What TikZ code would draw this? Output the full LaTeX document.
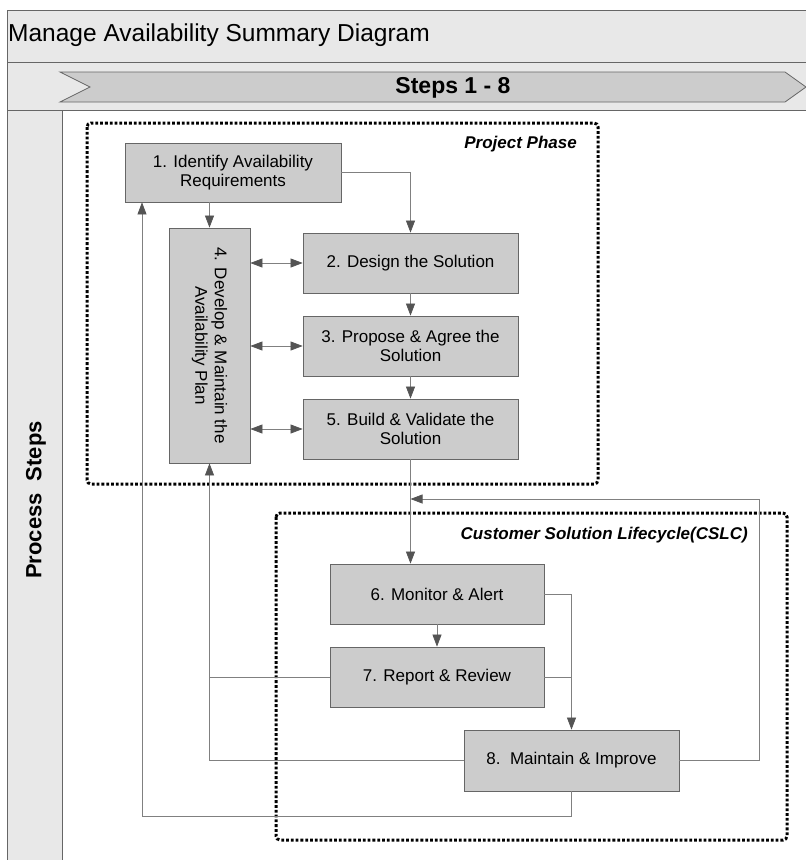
\documentclass[tikz,border=0pt]{standalone}
\usepackage{fontspec}
\setmainfont{Liberation Sans}
\usetikzlibrary{arrows.meta}
\definecolor{bandgray}{gray}{0.91}
\definecolor{boxgray}{gray}{0.80}
\definecolor{chevgray}{gray}{0.80}
\definecolor{framegray}{gray}{0.40}
\definecolor{linkgray}{gray}{0.50}
\definecolor{tipgray}{gray}{0.33}
\begin{document}
\begin{tikzpicture}[x=1pt,y=-1pt,
  stepbox/.style={draw=framegray, line width=0.8pt, fill=boxgray,
    minimum width=215pt, minimum height=60pt, inner sep=2pt,
    align=center, font=\fontsize{17}{19.5}\selectfont},
  link/.style={draw=linkgray, line width=0.7pt},
  tipend/.style={-{Triangle[length=12pt,width=9pt,fill=tipgray,color=tipgray]}},
  tipboth/.style={{Triangle[length=12pt,width=9pt,fill=tipgray,color=tipgray]}-{Triangle[length=12pt,width=9pt,fill=tipgray,color=tipgray]}},
  phase/.style={draw=black, line width=3pt, dash pattern=on 2.8pt off 2pt, rounded corners=4pt},
  phaselabel/.style={font=\fontsize{17}{20}\selectfont\bfseries\itshape, inner sep=0pt},
]
\useasboundingbox (0,0) rectangle (806,860);
\clip (0,0) rectangle (806,860);

% --- header bands and swimlane frame ---
\fill[white] (0,0) rectangle (806,860);
\draw[framegray, line width=0.8pt, fill=bandgray] (7,10) rectangle (830,62);
\draw[framegray, line width=0.8pt, fill=bandgray] (7,62) rectangle (830,110);
\draw[framegray, line width=0.8pt, fill=bandgray] (7,110) rectangle (62,880);
\draw[framegray, line width=0.8pt] (62,110) rectangle (830,880);

\node[anchor=west, inner sep=0pt, font=\fontsize{24.5}{28}\selectfont] (title) at (8,35)
  {Manage Availability Summary Diagram};

% chevron banner
\draw[framegray, line width=0.8pt, fill=chevgray]
  (60,72) -- (785,72) -- (806,87) -- (785,102) -- (60,102) -- (90,87) -- cycle;
\node[font=\fontsize{23}{26}\selectfont\bfseries] (steps) at (453,88) {Steps 1 - 8};

\node[rotate=90, font=\fontsize{22}{26}\selectfont\bfseries] (lane) at (36,500)
  {Process\ \ Steps};

% --- phase frames ---
\draw[phase] (87,123) rectangle (598,484);
\node[phaselabel, anchor=east] (pp) at (577,144) {Project Phase};
\draw[phase] (276,513) rectangle (787,840);
\node[phaselabel, anchor=east] (cslc) at (748,535) {Customer Solution Lifecycle(CSLC)};

% --- process steps ---
\node[stepbox, minimum width=216pt, minimum height=59pt] (b1) at (233,172.5)
  {1. Identify Availability\\Requirements};
\node[stepbox, minimum width=81pt, minimum height=235pt] (b4) at (209.5,345.5) {};
\node[rotate=-90, align=center, font=\fontsize{17}{19.5}\selectfont] (b4text) at (b4.center)
  {4. Develop \& Maintain the\\Availability Plan};
\node[stepbox] (b2) at (410.5,263) {2. Design the Solution};
\node[stepbox] (b3) at (410.5,346) {3. Propose \& Agree the\\Solution};
\node[stepbox] (b5) at (410.5,429) {5. Build \& Validate the\\Solution};
\node[stepbox, minimum width=214pt] (b6) at (437,594) {6. Monitor \& Alert};
\node[stepbox, minimum width=214pt] (b7) at (437,677) {7. Report \& Review};
\node[stepbox, minimum height=61pt] (b8) at (571.5,760.5) {8.\ \ Maintain \& Improve};

\coordinate (lowrun) at (142,816);
\coordinate (loopc) at (759,499);

% --- connectors ---
\draw[link, tipend] (b1.south -| b4.north) -- (b4.north);
\draw[link, tipend] (b1.east) -| (b2.north);
\draw[link, tipend] (b2) -- (b3);
\draw[link, tipend] (b3) -- (b5);
\draw[link, tipboth] (b4.east |- b2.west) -- (b2.west);
\draw[link, tipboth] (b4.east |- b3.west) -- (b3.west);
\draw[link, tipboth] (b4.east |- b5.west) -- (b5.west);
\draw[link, tipend] (b5.south) -- (b5.south |- b6.north);
\draw[link, tipend] (b6.south -| b7.north) -- (b7.north);
\draw[link, tipend] (b6.east) -| (b8.north);
\draw[link] (b7.east) -- (b7.east -| b8.north);
\draw[link] (b7.west) -- (b7.west -| b4.south);
\draw[link, tipend] (b8.west) -| (b4.south);
\draw[link, tipend] (b8.south) |- (lowrun) -- (lowrun |- b1.south);
\draw[link, tipend] (b8.east) -| (loopc) -- (loopc -| b5.south);
\end{tikzpicture}
\end{document}
